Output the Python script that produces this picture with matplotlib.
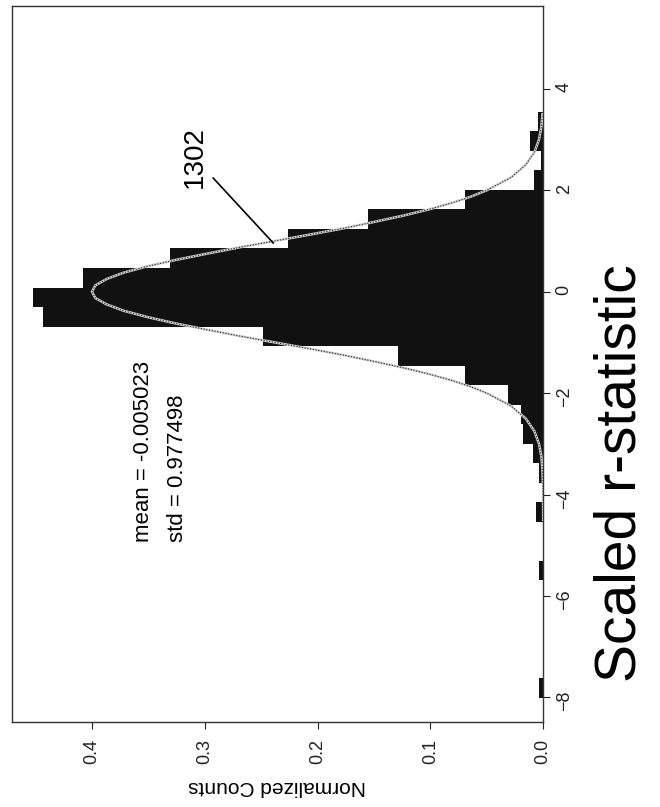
"""Histograma normalizado da estatistica r escalada, desenhado ja girado 90 graus."""

import matplotlib

matplotlib.use("Agg")
import matplotlib.pyplot as plt


# centros das classes do histograma (estatistica r escalada)
BIN_CENTERS = [
    -7.810, -7.425, -7.040, -6.655, -6.270, -5.885, -5.500, -5.115,
    -4.730, -4.345, -3.960, -3.575, -3.190, -2.805, -2.420, -2.035,
    -1.650, -1.265, -0.880, -0.495, -0.110, 0.275, 0.660, 1.045,
    1.430, 1.815, 2.200, 2.585, 2.970, 3.355,
]
BIN_WIDTH = 0.385

# contagens normalizadas
COUNTS = [
    0.004, 0.0, 0.0, 0.0, 0.0, 0.0, 0.004, 0.0,
    0.0, 0.006, 0.001, 0.004, 0.009, 0.018, 0.020, 0.031,
    0.069, 0.129, 0.248, 0.443, 0.452, 0.408, 0.331, 0.226,
    0.155, 0.069, 0.0085, 0.002, 0.012, 0.005,
]

# curva ajustada (normal)
CURVE_R = [
    -4.5, -4.0, -3.75, -3.5, -3.25, -3.0, -2.75, -2.5, -2.25, -2.0,
    -1.875, -1.75, -1.625, -1.5, -1.375, -1.25, -1.125, -1.0, -0.875, -0.75,
    -0.625, -0.5, -0.375, -0.25, -0.125, 0.0, 0.125, 0.25, 0.375, 0.5,
    0.625, 0.75, 0.875, 1.0, 1.125, 1.25, 1.375, 1.5, 1.625, 1.75,
    1.875, 2.0, 2.25, 2.5, 2.75, 3.0, 3.25, 3.5,
]
CURVE_COUNTS = [
    0.0, 0.0001, 0.0003, 0.0007, 0.0016, 0.0037, 0.0078, 0.0155, 0.0287, 0.050,
    0.064, 0.081, 0.101, 0.124, 0.150, 0.177, 0.207, 0.238, 0.269, 0.298,
    0.326, 0.351, 0.372, 0.387, 0.397, 0.400, 0.397, 0.387, 0.372, 0.351,
    0.326, 0.298, 0.269, 0.238, 0.207, 0.177, 0.150, 0.124, 0.101, 0.081,
    0.064, 0.050, 0.0287, 0.0155, 0.0078, 0.0037, 0.0016, 0.0007,
]

R_TICKS = [-8, -6, -4, -2, 0, 2, 4]
COUNT_TICKS = [0.0, 0.1, 0.2, 0.3, 0.4]
COUNT_TICK_LABELS = ["0.0", "0.1", "0.2", "0.3", "0.4"]

MEAN_TEXT = "mean = -0.005023"
STD_TEXT = "std = 0.977498"
REF_LABEL = "1302"
R_LABEL = "Scaled r-statistic"
COUNT_LABEL = "Normalized Counts"

FONT = ["Liberation Sans", "DejaVu Sans"]


def plot_histogram(output_path):
    """Desenha o histograma com a curva normal, tudo girado."""
    plt.rcParams["font.family"] = FONT

    fig = plt.figure(figsize=(6.6, 8.07), dpi=100)
    ax = fig.add_axes([0.018, 0.105, 0.805, 0.888])

    ax.barh(BIN_CENTERS, COUNTS, height=BIN_WIDTH, color="#111111", linewidth=0)

    ax.plot(CURVE_COUNTS, CURVE_R, color="#d0d0d0", linewidth=1.8, zorder=3)
    ax.plot(CURVE_COUNTS, CURVE_R, color="#222222", linewidth=0.8,
            linestyle=(0, (1, 1.5)), zorder=4)

    ax.set_xlim(0.471, 0.0)
    ax.set_ylim(-8.49, 5.64)

    ax.yaxis.tick_right()
    ax.set_yticks(R_TICKS)
    ax.set_xticks(COUNT_TICKS)
    ax.set_xticklabels(COUNT_TICK_LABELS)
    ax.tick_params(axis="both", direction="out", length=5, width=0.8,
                   labelsize=13, labelrotation=90, colors="#222222")
    ax.tick_params(axis="x", pad=7)
    ax.tick_params(axis="y", pad=4)

    for spine in ax.spines.values():
        spine.set_linewidth(1.0)
        spine.set_color("#333333")

    ax.set_xlabel(COUNT_LABEL, rotation=180, fontsize=15, labelpad=9)

    ax.text(0.3547, -4.94, MEAN_TEXT, rotation=90, rotation_mode="anchor",
            ha="left", va="center", fontsize=16)
    ax.text(0.3245, -4.94, STD_TEXT, rotation=90, rotation_mode="anchor",
            ha="left", va="center", fontsize=16)

    ax.text(0.3085, 2.66, REF_LABEL, rotation=90, ha="center", va="center",
            fontsize=20)
    ax.plot([0.2925, 0.2393], [2.24, 0.96], color="black", linewidth=1.2, zorder=5)

    fig.text(620 / 660, 1 - 473 / 807, R_LABEL, rotation=90, ha="center",
             va="center", fontsize=41)

    fig.savefig(output_path, dpi=100)
    plt.close(fig)


def main():
    plot_histogram("out.png")


if __name__ == "__main__":
    main()
